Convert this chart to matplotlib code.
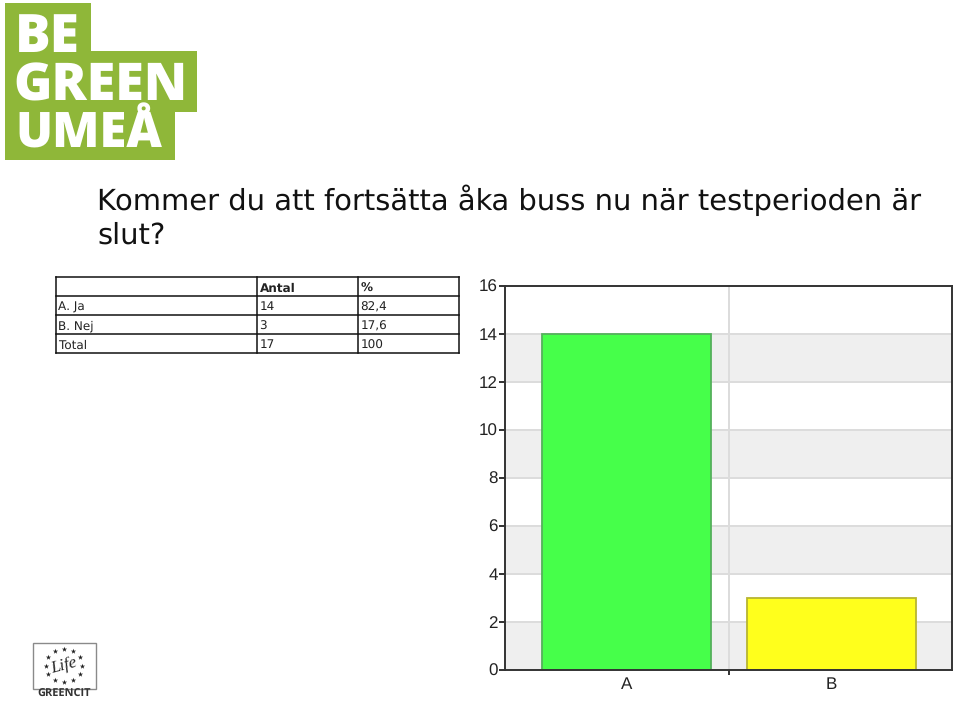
import numpy as np
import matplotlib
matplotlib.use('Agg')
import matplotlib.pyplot as plt
from matplotlib.patches import Polygon, Rectangle

plt.rcParams['text.hinting'] = 'no_hinting'
plt.rcParams['text.hinting_factor'] = 1

W, H = 960, 701
categories = ['A', 'B']
values = [14, 3]
bar_colors = ['#46ff4a', '#ffff1c']
edge_colors = ['#55b05c', '#b8b530']
y_ticks = [0, 2, 4, 6, 8, 10, 12, 14, 16]

table_header = ['', 'Antal', '%']
table_rows = [['A. Ja', '14', '82,4'],
              ['B. Nej', '3', '17,6'],
              ['Total', '17', '100']]

title_lines = ['Kommer du att fortsätta åka buss nu när testperioden är', 'slut?']
logo_lines = ['BE', 'GREEN', 'UMEÅ']

fig = plt.figure(figsize=(W / 100, H / 100), dpi=100, facecolor='white')

# page overlay in pixel coordinates
pg = fig.add_axes([0, 0, 1, 1], zorder=3)
pg.set_xlim(0, W)
pg.set_ylim(H, 0)
pg.axis('off')
pg.patch.set_alpha(0)

# logo
pg.add_patch(Polygon([(5, 3), (91, 3), (91, 51), (197, 51), (197, 112), (175, 112),
                      (175, 160), (5, 160)], closed=True, fc='#8fb739', ec='none'))
for (lx, ly, fs), line in zip([(15, 52, 38), (13, 100, 37.5), (15, 148, 35)], logo_lines):
    pg.text(lx, ly, line, color='white', fontsize=fs, fontweight=800,
            family='Open Sans', va='baseline', ha='left')

# title
pg.text(97, 209.5, title_lines[0], fontsize=20.6, family='DejaVu Sans', color='#111111', va='baseline')
pg.text(97, 244, title_lines[1], fontsize=20.6, family='DejaVu Sans', color='#111111', va='baseline')

# table
col_x = [56, 257, 358, 459]
row_y = [277, 296, 315, 334, 353]
for x in col_x:
    pg.plot([x, x], [row_y[0], row_y[-1]], color='#111111', lw=1.1, solid_capstyle='projecting')
for y in row_y:
    pg.plot([col_x[0], col_x[-1]], [y, y], color='#111111', lw=1.1, solid_capstyle='projecting')
for c, label in enumerate(table_header):
    pg.text(col_x[c] + 2.5, row_y[0] + 14.5, label, fontsize=8.8, fontweight='bold',
            family='DejaVu Sans', va='baseline', color='#222222')
for r, row in enumerate(table_rows):
    for c, label in enumerate(row):
        pg.text(col_x[c] + 2.5, row_y[r + 1] + 14.5, label, fontsize=8.8,
                family='DejaVu Sans', va='baseline', color='#222222')

# Life logo
pg.add_patch(Rectangle((32.5, 643), 63, 46, fc='white', ec='#8a8a8a', lw=1))
angles = np.deg2rad(np.arange(0, 360, 30))
pg.scatter(64 + 18 * np.cos(angles), 665.5 + 16.5 * np.sin(angles), marker='*', s=16,
           color='#222222', linewidths=0)
pg.text(64, 666, 'Life', fontsize=12, style='italic', family='Liberation Serif',
        color='#222222', ha='center', va='center', rotation=15)
pg.text(64, 694.5, 'GREENCIT', fontsize=8.2, fontweight='bold', family='Open Sans',
        color='#333333', ha='center', va='center')

# chart
L, R, T, B = 505, 952, 286, 670
ax = fig.add_axes([L / W, 1 - B / H, (R - L) / W, (B - T) / H], zorder=2)
x = np.arange(len(categories))
ax.set_xlim(-0.593, 1.588)
ax.set_ylim(0, 16)
for lo in y_ticks[:-1:2]:
    ax.axhspan(lo, lo + 2, color='#efefef', lw=0, zorder=0)
for t in y_ticks[1:-1]:
    ax.axhline(t, color='#dcdcdc', lw=1.4, zorder=1)
ax.axvline(0.5, color='#dcdcdc', lw=1.4, zorder=1)
for xi, v, fc, ec in zip(x, values, bar_colors, edge_colors):
    ax.bar(xi, v, width=0.824, color=fc, edgecolor=ec, linewidth=1.3, zorder=2)
ax.set_yticks(y_ticks)
ax.set_xticks([0.5], minor=False)
ax.set_xticklabels([''])
ax.tick_params(axis='y', length=4.3, width=1.3, color='#222222', labelsize=12, pad=1,
               labelcolor='#222222')
ax.tick_params(axis='x', length=3.5, width=1.3, color='#222222')
for xi, c in zip(x, categories):
    ax.annotate(c, xy=(xi, 0), xycoords=('data', 'axes fraction'), xytext=(0, -10.5),
                textcoords='offset points', ha='center', va='center', fontsize=12,
                color='#222222', family='Liberation Sans')
for lab in ax.get_yticklabels():
    lab.set_family('Liberation Sans')
for s in ax.spines.values():
    s.set_linewidth(1.4)
    s.set_color('#333333')

fig.savefig('out.png', dpi=100)
